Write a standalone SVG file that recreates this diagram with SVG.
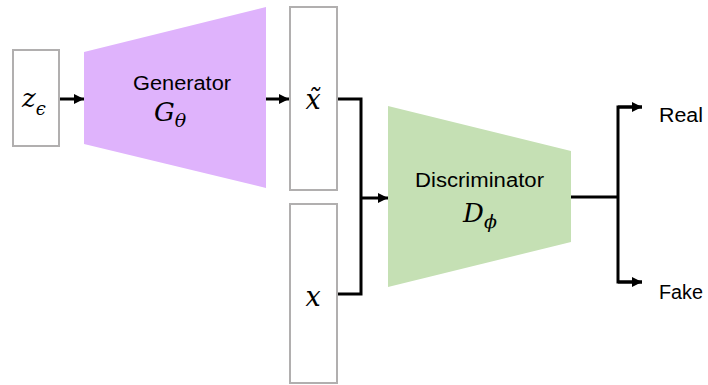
<svg xmlns="http://www.w3.org/2000/svg" width="708" height="385" viewBox="0 0 708 385">
<defs>
<style>
.box{fill:#ffffff;stroke:#b1afaf;stroke-width:2}
.lbl{font-family:"Liberation Sans",Arial,sans-serif;font-size:19.5px;fill:#000}
.math{font-family:"DejaVu Serif","Liberation Serif",serif;font-style:italic;fill:#000}
.wire{fill:none;stroke:#000;stroke-width:3}
</style>
<marker id="ah" viewBox="0 0 10 10" refX="10" refY="5" markerWidth="11" markerHeight="10" markerUnits="userSpaceOnUse" orient="auto">
<path d="M0,0 L10,5 L0,10 Z" fill="#000"/>
</marker>
</defs>
<rect width="708" height="385" fill="#ffffff"/>
<g id="z">
<rect class="box" x="13" y="50" width="46" height="96"/>
<text class="math" x="22" y="107" font-size="26">z<tspan font-size="18" dy="8">ϵ</tspan></text>
</g>
<g id="generator">
<polygon points="84,52 266,7 266,188 84,144" fill="#dfb3fc"/>
<text class="lbl" x="182" y="90" text-anchor="middle" textLength="98" lengthAdjust="spacingAndGlyphs">Generator</text>
<text class="math" x="170" y="121" text-anchor="middle" font-size="26">G<tspan font-size="19" dy="6">θ</tspan></text>
</g>
<g id="xtilde">
<rect class="box" x="290" y="7" width="47" height="183"/>
<text class="math" x="313" y="109" text-anchor="middle" font-size="27">x̃</text>
</g>
<g id="x">
<rect class="box" x="290" y="204" width="47" height="179"/>
<text class="math" x="313" y="306" text-anchor="middle" font-size="27">x</text>
</g>
<g id="discriminator">
<polygon points="388,106 571,151 571,242 388,287" fill="#c5e0b4"/>
<text class="lbl" x="479.5" y="187" text-anchor="middle" textLength="129" lengthAdjust="spacingAndGlyphs">Discriminator</text>
<text class="math" x="480" y="222" text-anchor="middle" font-size="26">D<tspan font-size="19" dy="6">ϕ</tspan></text>
</g>
<g id="real">
<text class="lbl" x="659" y="122" textLength="44" lengthAdjust="spacingAndGlyphs">Real</text>
</g>
<g id="fake">
<text class="lbl" x="659" y="299" textLength="44" lengthAdjust="spacingAndGlyphs">Fake</text>
</g>
<g id="connectors">
<line class="wire" x1="60" y1="99" x2="84" y2="99" marker-end="url(#ah)"/>
<line class="wire" x1="266" y1="99" x2="289" y2="99" marker-end="url(#ah)"/>
<polyline class="wire" points="338,99 361,99 361,294 338,294"/>
<line class="wire" x1="361" y1="198" x2="388" y2="198" marker-end="url(#ah)"/>
<line class="wire" x1="571" y1="197" x2="618" y2="197"/>
<polyline class="wire" points="642,107 618,107 618,282 642,282"/>
<line class="wire" x1="618" y1="107" x2="642" y2="107" marker-end="url(#ah)"/>
<line class="wire" x1="618" y1="282" x2="642" y2="282" marker-end="url(#ah)"/>
</g>
</svg>
